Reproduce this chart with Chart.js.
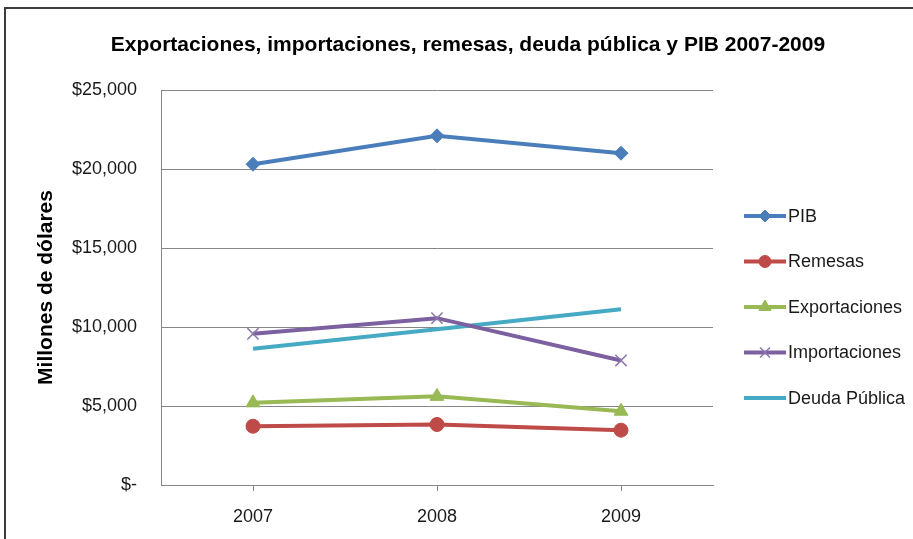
<!DOCTYPE html>
<html>
<head>
<meta charset="utf-8">
<title>Exportaciones, importaciones, remesas, deuda pública y PIB 2007-2009</title>
<script src="https://cdn.jsdelivr.net/npm/chart.js@4.4.1/dist/chart.umd.min.js"></script>
<style>

    html, body {
        margin: 0;
        padding: 0;
        background: #ffffff;
    }

    #wrap {
        position: relative;
        width: 913px;
        height: 539px;
        overflow: hidden;
    }

    #frame {
        position: absolute;
        left: 4px;
        top: 7px;
        width: 960px;
        height: 600px;
        border-top: 2px solid #3c3c3c;
        border-left: 2px solid #3c3c3c;
        pointer-events: none;
    }

</style>
</head>
<body>

<div id="wrap">
    <canvas id="trendChart" width="913" height="539"></canvas>
    <div id="frame"></div>
</div>

<script>

/* ==========================================================
   DATA (millones de dólares)
========================================================== */

const years = ["2007", "2008", "2009"];

const pib = [20300, 22100, 21000];
const remesas = [3720, 3830, 3470];
const exportaciones = [5200, 5610, 4670];
const importaciones = [9570, 10560, 7880];
const deudaPublica = [8620, 9860, 11120];

const yTicks = [0, 5000, 10000, 15000, 20000, 25000];

const TITLE = "Exportaciones, importaciones, remesas, deuda pública y PIB 2007-2009";

const FONT = "'Liberation Sans', Arial, sans-serif";

let trendChart = null;


/* ==========================================================
   JUDUL (dipusatkan di seluruh kanvas, bukan di area plot)
========================================================== */

const excelTitle = {

    id: "excelTitle",

    afterDraw(chart) {

        const ctx = chart.ctx;

        ctx.save();
        ctx.fillStyle = "#000000";
        ctx.font = "bold 21px " + FONT;
        ctx.textAlign = "center";
        ctx.textBaseline = "middle";
        ctx.fillText(TITLE, 468, 45);
        ctx.restore();

    }

};


/* ==========================================================
   LEGEND (garis + marker, gaya Excel)
========================================================== */

const excelLegend = {

    id: "excelLegend",

    afterDraw(chart) {

        const ctx = chart.ctx;

        const x0 = 744;
        const x1 = 786;

        chart.data.datasets.forEach((ds, i) => {

            const y = 216 + i * 45.5;

            ctx.save();

            ctx.strokeStyle = ds.borderColor;
            ctx.lineWidth = 4;
            ctx.beginPath();
            ctx.moveTo(x0, y);
            ctx.lineTo(x1, y);
            ctx.stroke();

            if (ds.pointRadius > 0 && Chart.helpers && Chart.helpers.drawPoint) {

                ctx.fillStyle = ds.pointBackgroundColor;
                ctx.strokeStyle = ds.pointBorderColor;
                ctx.lineWidth = ds.pointBorderWidth;

                Chart.helpers.drawPoint(ctx, {
                    pointStyle: ds.pointStyle,
                    radius: ds.pointRadius - 1,
                    borderWidth: ds.pointBorderWidth,
                    rotation: 0
                }, (x0 + x1) / 2, y);

            }

            ctx.fillStyle = "#1a1a1a";
            ctx.font = "18px " + FONT;
            ctx.textAlign = "left";
            ctx.textBaseline = "middle";
            ctx.fillText(ds.label, x1 + 2, y + 1);

            ctx.restore();

        });

    }

};


/* ==========================================================
   LINE CHART
========================================================== */

function serie(label, data, color, style, radius, extra) {

    return Object.assign({

        label,
        data,

        borderColor: color,
        backgroundColor: color,
        borderWidth: 4,

        pointStyle: style,
        pointRadius: radius,
        pointHoverRadius: radius,
        pointBackgroundColor: color,
        pointBorderColor: color,
        pointBorderWidth: 1,

        tension: 0,
        fill: false

    }, extra || {});

}

function renderTrendChart() {

    const ctx = document
        .getElementById("trendChart")
        .getContext("2d");

    if (trendChart) {

        trendChart.destroy();

    }

    trendChart = new Chart(ctx, {

        type: "line",

        data: {

            labels: years,

            datasets: [

                serie("PIB", pib, "#4a7ebb", "rectRot", 7),
                serie("Remesas", remesas, "#be4b48", "circle", 7),
                serie("Exportaciones", exportaciones, "#98b954", "triangle", 8),
                serie("Importaciones", importaciones, "#7d60a0", "crossRot", 8, {
                    pointBorderColor: "#8a78a8",
                    pointBorderWidth: 1.5
                }),
                serie("Deuda Pública", deudaPublica, "#46aac5", "circle", 0)

            ]

        },

        options: {

            responsive: false,
            animation: false,
            devicePixelRatio: 1,

            layout: {

                padding: { left: 0, right: 200, top: 90, bottom: 0 }

            },

            plugins: {

                legend: { display: false },

                tooltip: { enabled: false },

                title: { display: false }

            },

            scales: {

                x: {

                    offset: true,

                    grid: {
                        offset: false,
                        drawOnChartArea: false,
                        drawTicks: true,
                        tickLength: 6,
                        color: "#868686"
                    },

                    border: { display: true, color: "#868686", width: 1 },

                    ticks: {
                        color: "#1a1a1a",
                        padding: 15,
                        font: { family: FONT, size: 18 }
                    },

                    afterFit(scale) {
                        scale.height = 54;
                    }

                },

                y: {

                    min: 0,
                    max: 25000,

                    afterBuildTicks(scale) {
                        scale.ticks = yTicks.map(v => ({ value: v }));
                    },

                    grid: {
                        drawTicks: false,
                        color: "#868686"
                    },

                    border: { display: true, color: "#868686", width: 1 },

                    ticks: {
                        color: "#1a1a1a",
                        padding: 24,
                        font: { family: FONT, size: 18 },
                        callback: v => v === 0 ? "$-" : "$" + v.toLocaleString("en-US")
                    },

                    title: {
                        display: true,
                        text: "Millones de dólares",
                        color: "#000000",
                        font: { family: FONT, size: 21, weight: "bold", lineHeight: 1.2 },
                        padding: { top: 34, bottom: 0 }
                    },

                    afterFit(scale) {
                        scale.width = 161;
                    }

                }

            }

        },

        plugins: [excelTitle, excelLegend]

    });

}

renderTrendChart();

</script>

</body>
</html>
